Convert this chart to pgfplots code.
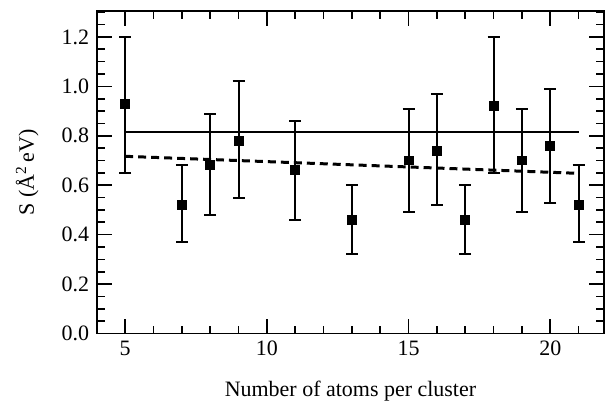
\documentclass[border=0pt]{standalone}
\usepackage{fontspec}
\setmainfont{Liberation Serif}
\usepackage{pgfplots}
\pgfplotsset{compat=1.18}
\begin{document}
\fontsize{11}{13}\selectfont
\begin{tikzpicture}
\begin{axis}[
  scale only axis,
  width=254pt, height=161.5pt,
  xmin=4, xmax=21.9, ymin=0, ymax=1.305,
  xtick={5,10,15,20},
  minor xtick={4,6,7,8,9,11,12,13,14,16,17,18,19,21},
  ytick={0,0.2,0.4,0.6,0.8,1.0,1.2},
  minor ytick={0.05,0.1,...,1.30},
  yticklabel style={/pgf/number format/.cd,fixed,fixed zerofill,precision=1},
  /pgf/number format/assume math mode=true,
  tick label style={font=\fontsize{11}{13}\selectfont},
  label style={font=\fontsize{11}{13}\selectfont},
  tick align=inside,
  major tick length=7.5pt, minor tick length=4pt,
  tick style={black, line width=0.8pt},
  axis line style={line width=0.9pt},
  xlabel={Number of atoms per cluster},
  ylabel={S (Å\textsuperscript{2}\,eV)},
  xlabel style={yshift=-5pt},
  ylabel style={yshift=4pt},
  clip=false,
]
\addplot[black, line width=1pt, mark=square*, mark size=2.25pt, only marks,
  mark options={solid, line width=0.5pt},
  error bars/.cd, y dir=both, y explicit,
  error bar style={line width=1pt, black},
  error mark options={rotate=90, mark size=3pt, line width=1pt, black}]
  table[x=x, y=y, y error plus=ep, y error minus=em] {
  x y ep em
  5 0.93 0.27 0.28
  7 0.52 0.16 0.15
  8 0.68 0.21 0.20
  9 0.78 0.24 0.23
  11 0.66 0.20 0.20
  13 0.46 0.14 0.14
  15 0.70 0.21 0.21
  16 0.74 0.23 0.22
  17 0.46 0.14 0.14
  18 0.92 0.28 0.27
  19 0.70 0.21 0.21
  20 0.76 0.23 0.23
  21 0.52 0.16 0.15
  };
\addplot[black, line width=0.8pt] coordinates {(5,0.815) (21,0.815)};
\addplot[black, line width=1.5pt, dash pattern=on 4pt off 2.5pt] coordinates {(5,0.717) (21,0.648)};
\end{axis}
\path ([xshift=-48.5pt,yshift=5.5pt]current axis.north west) ([yshift=-30pt]current axis.south east);
\end{tikzpicture}
\end{document}
